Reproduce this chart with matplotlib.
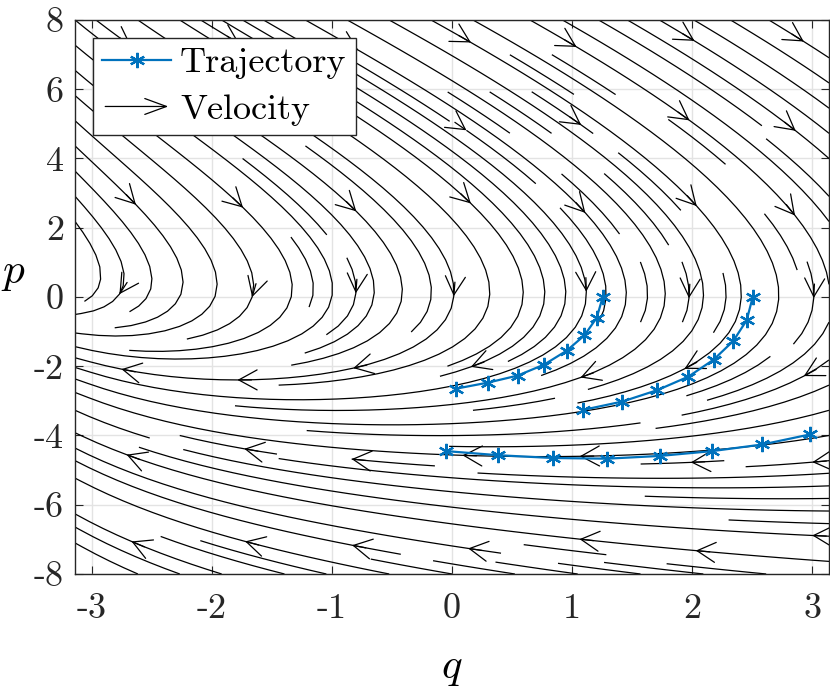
import numpy as np
import matplotlib
matplotlib.use("Agg")
import matplotlib.pyplot as plt
from matplotlib.patches import FancyArrowPatch
from matplotlib.legend_handler import HandlerBase
from matplotlib.lines import Line2D

plt.rcParams['font.family'] = 'serif'
plt.rcParams['font.serif'] = ['cmr10']
plt.rcParams['mathtext.fontset'] = 'cm'
plt.rcParams['axes.unicode_minus'] = False
plt.rcParams['axes.formatter.use_mathtext'] = False

# trajectories (q, p)
traj1_q = [1.256, 1.206, 1.103, 0.956, 0.769, 0.547, 0.303, 0.030]
traj1_p = [0.00, -0.60, -1.11, -1.55, -1.95, -2.27, -2.47, -2.65]
traj2_q = [2.506, 2.456, 2.344, 2.180, 1.970, 1.711, 1.419, 1.094]
traj2_p = [0.00, -0.67, -1.27, -1.81, -2.30, -2.69, -3.02, -3.26]
traj3_q = [2.983, 2.586, 2.170, 1.733, 1.289, 0.839, 0.386, -0.053]
traj3_p = [-3.97, -4.26, -4.45, -4.59, -4.67, -4.65, -4.57, -4.45]

xticks = [-3, -2, -1, 0, 1, 2, 3]
yticks = [-8, -6, -4, -2, 0, 2, 4, 6, 8]

# where streamslice puts its arrows (coarse grid)
arrow_q = [-2.7, -1.76, -0.82, 0.12, 1.06, 2.0, 2.94]
arrow_p = [7.3, 4.9, 2.5, 0.1, -2.2, -4.6, -7.1]


def velocity(q, p):
    # approximation of the plotted velocity field
    p0 = 0.05 + 0.55 * np.exp(-0.6 * (q + 2.9))
    w = p - p0
    f1 = -1.2 - 1.2 * np.exp(-1.0 * (q + np.pi))
    return w, -5.3 - 0.65 * q + f1 * w


q = np.linspace(-np.pi, np.pi, 240)
p = np.linspace(-8, 8, 240)
Q, P = np.meshgrid(q, p)
U, V = velocity(Q, P)


class ArrowHandler(HandlerBase):
    def create_artists(self, legend, orig_handle, xdescent, ydescent,
                       width, height, fontsize, trans):
        y = (height - ydescent) / 2.0
        a = FancyArrowPatch((-xdescent, y), (-xdescent + width, y),
                            arrowstyle='->,head_length=0.6,head_width=0.22',
                            mutation_scale=fontsize, lw=0.9, color='k',
                            transform=trans)
        return [a]


fig = plt.figure(figsize=(8.3, 6.87), dpi=100)
ax = fig.add_axes([0.0904, 0.1645, 0.9084, 0.8064])
ax.set_xlim(-np.pi, np.pi)
ax.set_ylim(-8, 8)

sp = ax.streamplot(Q, P, U, V, density=(1.25, 1.5), color='k', linewidth=0.9,
                   arrowstyle='-', zorder=2)
for pa in list(ax.patches):
    pa.remove()

# arrows on the drawn lines, near the coarse grid points
sx = 754 / (2 * np.pi)
sy = 554 / 16.0
pts = np.concatenate([np.asarray(s) for s in sp.lines.get_segments()])
for pc in arrow_p:
    for qc in arrow_q:
        d = np.hypot((pts[:, 0] - qc) * sx, (pts[:, 1] - pc) * sy)
        i = np.argmin(d)
        if d[i] > 22:
            continue
        x, y = pts[i]
        u, v = velocity(x, y)
        ex, ey = u * sx, v * sy
        n = np.hypot(ex, ey)
        ex, ey = ex / n, ey / n
        tail = (x - 14 * ex / sx, y - 14 * ey / sy)
        ax.add_patch(FancyArrowPatch(tail, (x, y),
                                     arrowstyle='->,head_length=0.55,head_width=0.3',
                                     mutation_scale=24, lw=0.9, color='k',
                                     shrinkA=0, shrinkB=0, zorder=2))

ax.plot(traj1_q, traj1_p, color='#0072BD', lw=1.6, marker=(6, 2, 0),
        markersize=11, mew=1.6, zorder=3)
ax.plot(traj2_q, traj2_p, color='#0072BD', lw=1.6, marker=(6, 2, 0),
        markersize=11, mew=1.6, zorder=3)
ax.plot(traj3_q, traj3_p, color='#0072BD', lw=1.6, marker=(6, 2, 0),
        markersize=11, mew=1.6, zorder=3)

ax.set_xticks(xticks)
ax.set_yticks(yticks)
ax.grid(True, color='#e3e3e3', lw=1.0, zorder=0)
ax.set_axisbelow(True)
ax.tick_params(direction='in', top=True, right=True, length=6, width=0.8,
               color='#262626', labelcolor='#262626', labelsize=26)
ax.tick_params(axis='x', pad=14)
ax.tick_params(axis='y', pad=8)
for s in ax.spines.values():
    s.set_color('#262626')
    s.set_linewidth(1.0)

ax.set_xlabel('$q$', fontsize=31)
ax.xaxis.set_label_coords(0.5, -0.172)
ax.xaxis.label.set_va('center')
ax.set_ylabel('$p$', fontsize=31, rotation=0)
ax.yaxis.set_label_coords(-0.082, 0.541)
ax.yaxis.label.set_va('center')
ax.yaxis.label.set_ha('center')

traj_h = Line2D([], [], color='#0072BD', lw=1.6, marker=(6, 2, 0),
                markersize=11, mew=1.6)
vel_h = FancyArrowPatch((0, 0), (1, 0))
leg = ax.legend([traj_h, vel_h], ['Trajectory', 'Velocity'],
                handler_map={vel_h: ArrowHandler()},
                loc='upper left', bbox_to_anchor=(0.0239, 0.968),
                borderaxespad=0, fontsize=26, handlelength=1.9,
                handletextpad=0.25, borderpad=0.26, labelspacing=0.4,
                fancybox=False, framealpha=1, edgecolor='#262626')
leg.get_frame().set_linewidth(1.0)
leg.set_zorder(5)

fig.savefig('out.png', dpi=100)
